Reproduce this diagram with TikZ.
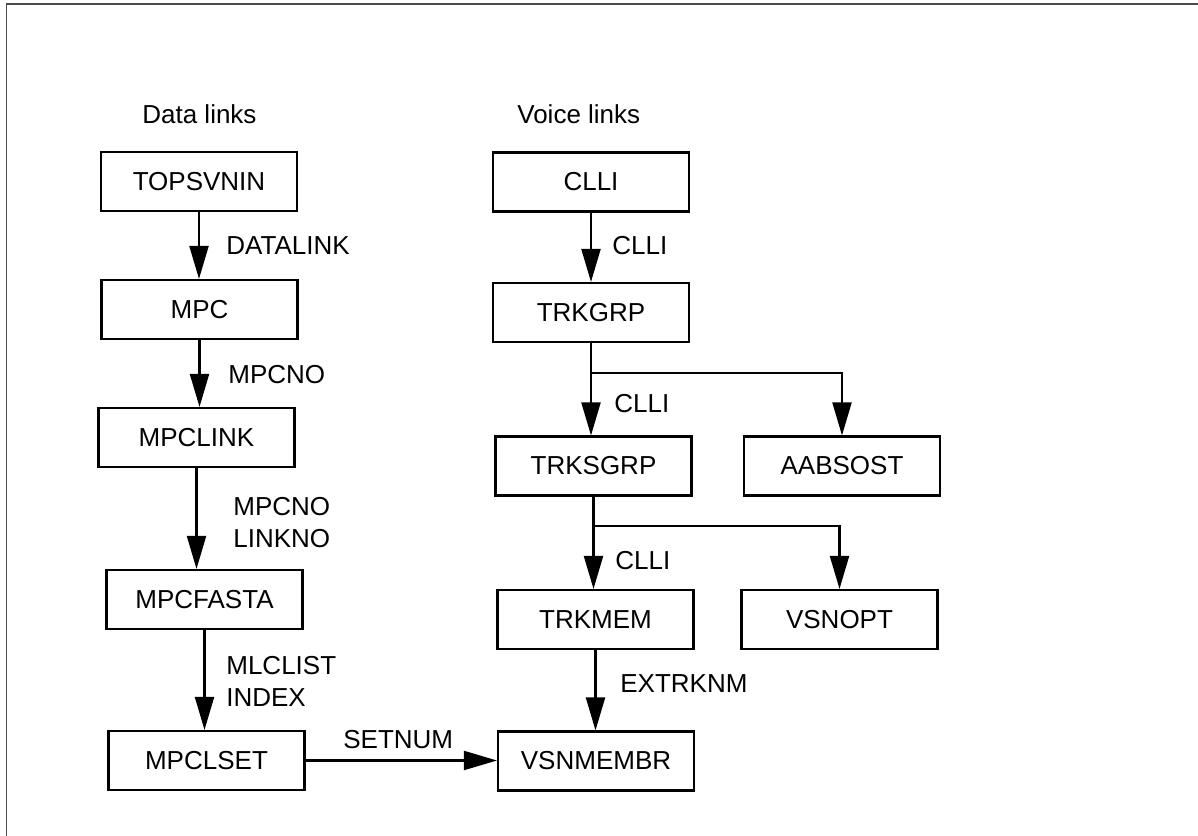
\documentclass[tikz,border=0pt]{standalone}
\usepackage{fontspec}
\setmainfont{Liberation Sans}
\usetikzlibrary{arrows.meta}

\begin{document}
\begin{tikzpicture}[>={Triangle[length=0.66cm,width=0.38cm]},
    every node/.style={font=\fontsize{14.8}{18.1}\selectfont},
    tab/.style={draw,line width=1.2pt,minimum width=3.92cm,minimum height=1.18cm,inner sep=0pt},
    lab/.style={anchor=west,inner sep=0pt,align=left},
    link/.style={->,line width=1.2pt}]
\useasboundingbox (0,0) rectangle (23.96,-16.72);
\draw[line width=0.8pt,black!70](0.13,-16.72)--(0.13,-0.08)--(23.96,-0.08);
% headings
\node[lab](dhead) at (2.84,-2.29){Data links};
\node[lab](vhead) at (10.34,-2.29){Voice links};
% data links
\node[tab](topsvnin) at (3.98,-3.63){TOPSVNIN};
\node[tab](mpc) at (3.99,-6.19){MPC};
\node[tab](mpclink) at (3.93,-8.75){MPCLINK};
\node[tab](mpcfasta) at (4.09,-11.99){MPCFASTA};
\node[tab](mpclset) at (4.13,-15.21){MPCLSET};
% voice links
\node[tab](clli) at (11.82,-3.64){CLLI};
\node[tab](trkgrp) at (11.82,-6.25){TRKGRP};
\node[tab](trksgrp) at (11.87,-9.32){TRKSGRP};
\node[tab](aabsost) at (16.84,-9.32){AABSOST};
\node[tab](trkmem) at (11.91,-12.39){TRKMEM};
\node[tab](vsnopt) at (16.79,-12.39){VSNOPT};
\node[tab](vsnmembr) at (11.92,-15.22){VSNMEMBR};
% keys
\node[lab](ldatalink) at (4.52,-4.92){DATALINK};
\node[lab](lmpcno) at (4.56,-7.49){MPCNO};
\node[lab](llinkno) at (4.66,-10.45){MPCNO\\LINKNO};
\node[lab](lindex) at (4.52,-13.63){MLCLIST\\INDEX};
\node[lab](lsetnum) at (6.86,-14.80){SETNUM};
\node[lab](lclli1) at (12.24,-4.92){CLLI};
\node[lab](lclli2) at (12.28,-8.08){CLLI};
\node[lab](lclli3) at (12.30,-11.22){CLLI};
\node[lab](lextrknm) at (12.40,-13.68){EXTRKNM};
\coordinate(j1) at (11.82,-7.46);
\coordinate(j2) at (11.87,-10.52);
% connectors
\draw[link](topsvnin.south)--(topsvnin.south|-mpc.north);
\draw[link](mpc.south)--(mpc.south|-mpclink.north);
\draw[link](mpclink.south)--(mpclink.south|-mpcfasta.north);
\draw[link](mpcfasta.south)--(mpcfasta.south|-mpclset.north);
\draw[link](mpclset.east)--(mpclset.east-|vsnmembr.west);
\draw[link](clli.south)--(clli.south|-trkgrp.north);
\draw[link](trkgrp.south)--(trkgrp.south|-trksgrp.north);
\draw[link](j1)-|(aabsost.north);
\draw[link](trksgrp.south)--(trksgrp.south|-trkmem.north);
\draw[link](j2)-|(vsnopt.north);
\draw[link](trkmem.south)--(trkmem.south|-vsnmembr.north);
\end{tikzpicture}
\end{document}
